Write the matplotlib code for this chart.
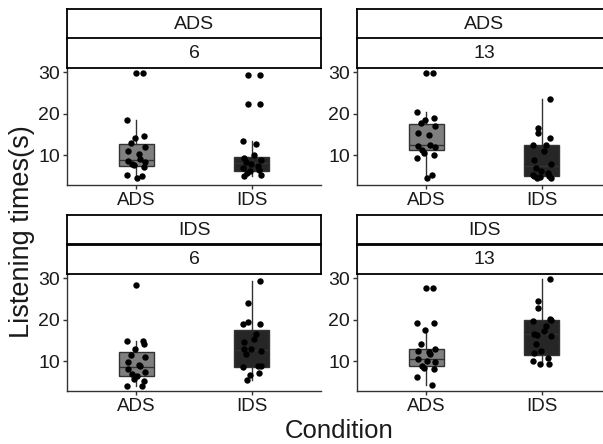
import numpy as np
import matplotlib
matplotlib.use("Agg")
import matplotlib.pyplot as plt

plt.rcParams['font.family'] = ['Liberation Sans', 'DejaVu Sans']

# ---- data ----
row_labels = ["ADS", "IDS"]          # top strip
col_labels = ["6", "13"]             # second strip
conditions = ["ADS", "IDS"]
yticks = [10, 20, 30]

# box stats per panel: [ADS condition, IDS condition]
whislo = {("ADS", "6"): [4.6, 5.0], ("ADS", "13"): [4.5, 4.5],
          ("IDS", "6"): [4.0, 5.6], ("IDS", "13"): [4.4, 9.5]}
q1 = {("ADS", "6"): [7.4, 6.3], ("ADS", "13"): [11.2, 5.1],
      ("IDS", "6"): [6.4, 8.6], ("IDS", "13"): [9.0, 11.5]}
med = {("ADS", "6"): [8.8, 8.2], ("ADS", "13"): [12.4, 7.4],
       ("IDS", "6"): [8.7, 12.8], ("IDS", "13"): [10.6, 16.6]}
q3 = {("ADS", "6"): [12.7, 9.6], ("ADS", "13"): [17.5, 12.4],
      ("IDS", "6"): [12.3, 17.6], ("IDS", "13"): [12.9, 19.9]}
whishi = {("ADS", "6"): [18.6, 13.5], ("ADS", "13"): [20.5, 23.5],
          ("IDS", "6"): [15.0, 29.4], ("IDS", "13"): [17.6, 29.7]}

pts_ads6_ads = [29.8, 29.8, 18.6, 14.7, 14.2, 13.0, 12.0, 11.1, 10.3, 9.2, 8.6, 8.4, 7.9, 7.6, 7.3, 5.4, 5.0, 4.6]
pts_ads6_ids = [29.4, 29.4, 22.4, 22.4, 13.5, 12.8, 10.0, 9.5, 9.0, 8.5, 8.0, 7.5, 7.0, 6.6, 6.2, 5.8, 5.4, 5.0]
pts_ads13_ads = [29.8, 29.8, 20.5, 19.0, 18.6, 17.8, 17.0, 15.4, 15.0, 12.6, 12.2, 12.0, 11.4, 10.6, 10.0, 9.5, 5.3, 4.5]
pts_ads13_ids = [23.5, 16.7, 15.4, 14.2, 12.6, 12.4, 11.0, 9.0, 8.0, 7.0, 6.2, 5.8, 5.4, 5.1, 4.8, 4.6, 4.5, 5.0]
pts_ids6_ads = [28.4, 15.0, 15.0, 14.2, 13.0, 11.5, 11.0, 9.8, 9.2, 8.8, 8.2, 7.5, 7.0, 5.9, 5.4, 4.0, 4.0, 6.5]
pts_ids6_ids = [29.4, 24.1, 19.4, 19.0, 18.9, 16.5, 15.3, 14.6, 12.6, 11.7, 12.9, 8.9, 8.6, 7.2, 6.8, 5.5, 9.0, 13.0]
pts_ids13_ads = [27.7, 27.7, 19.2, 19.2, 17.6, 14.2, 13.0, 12.6, 12.2, 11.8, 10.6, 9.8, 9.0, 8.4, 8.2, 6.2, 4.4, 10.2]
pts_ids13_ids = [29.7, 24.4, 22.9, 20.1, 19.8, 18.5, 17.3, 16.6, 16.1, 14.3, 12.6, 10.8, 10.2, 9.5, 9.5, 16.4, 19.9, 12.0]

points = {("ADS", "6"): [pts_ads6_ads, pts_ads6_ids],
          ("ADS", "13"): [pts_ads13_ads, pts_ads13_ids],
          ("IDS", "6"): [pts_ids6_ads, pts_ids6_ids],
          ("IDS", "13"): [pts_ids13_ads, pts_ids13_ids]}

box_colors = ["#7f7f7f", "#262626"]

# ---- layout (figure pixels) ----
W, H = 603, 444
fig = plt.figure(figsize=(W / 100, H / 100), dpi=100)

col_x = [67, 357]
panel_w = 254
row_axis_top = [68, 274]
panel_h = 117
strip_h = 29.5

def fx(px):
    return px / W

def fy(py):
    return 1 - py / H

tick_fs = 13.5
strip_fs = 14

for r, rl in enumerate(row_labels):
    for c, cl in enumerate(col_labels):
        key = (rl, cl)
        x0 = col_x[c]
        top = row_axis_top[r]
        ax = fig.add_axes([fx(x0), fy(top + panel_h), panel_w / W, panel_h / H])
        stats = []
        for i, cond in enumerate(conditions):
            stats.append(dict(med=med[key][i], q1=q1[key][i], q3=q3[key][i],
                              whislo=whislo[key][i], whishi=whishi[key][i],
                              fliers=[], label=cond))
        bp = ax.bxp(stats, positions=[1, 2], widths=0.3, patch_artist=True,
                    showcaps=False, showfliers=False,
                    boxprops=dict(edgecolor="#333333", linewidth=1.0),
                    whiskerprops=dict(color="#333333", linewidth=1.0),
                    medianprops=dict(color="#333333", linewidth=1.0))
        for patch, col in zip(bp['boxes'], box_colors):
            patch.set_facecolor(col)
        for i in range(2):
            vals = np.array(points[key][i])
            idx = np.arange(len(vals))
            jit = 0.08 * np.sin(idx * 2.39996 + i * 1.1)
            ax.plot(1 + i + jit, vals, 'o', color="black", markersize=4.6,
                    markeredgewidth=0, zorder=5)
        ax.set_xlim(0.4, 2.6)
        ax.set_ylim(2.9, 31.0)
        ax.set_yticks(yticks)
        ax.set_xticks([1, 2])
        ax.set_xticklabels(conditions)
        for s in ["top", "right"]:
            ax.spines[s].set_visible(False)
        for s in ["left", "bottom"]:
            ax.spines[s].set_color("#333333")
            ax.spines[s].set_linewidth(1.0)
        ax.tick_params(axis="both", length=3, width=1.0, color="#333333",
                       labelsize=tick_fs, labelcolor="#1a1a1a", pad=2)
        ax.tick_params(axis="y", labelsize=14)
        # strips
        for k, txt in enumerate([rl, cl]):
            sy_top = top - strip_h * (2 - k)
            sax = fig.add_axes([fx(x0), fy(sy_top + strip_h), panel_w / W, strip_h / H])
            sax.set_xticks([])
            sax.set_yticks([])
            for s in sax.spines.values():
                s.set_color("black")
                s.set_linewidth(1.3)
            sax.text(0.5, 0.48, txt, ha="center", va="center", fontsize=strip_fs,
                     color="#1a1a1a", transform=sax.transAxes)

fig.text(fx(339), fy(431), "Condition", ha="center", va="center", fontsize=18.5, color="#1a1a1a")
fig.text(fx(22), fy(232), "Listening times(s)", ha="center", va="center", fontsize=19.5,
         rotation=90, color="#1a1a1a")

fig.savefig("out.png", dpi=100)
